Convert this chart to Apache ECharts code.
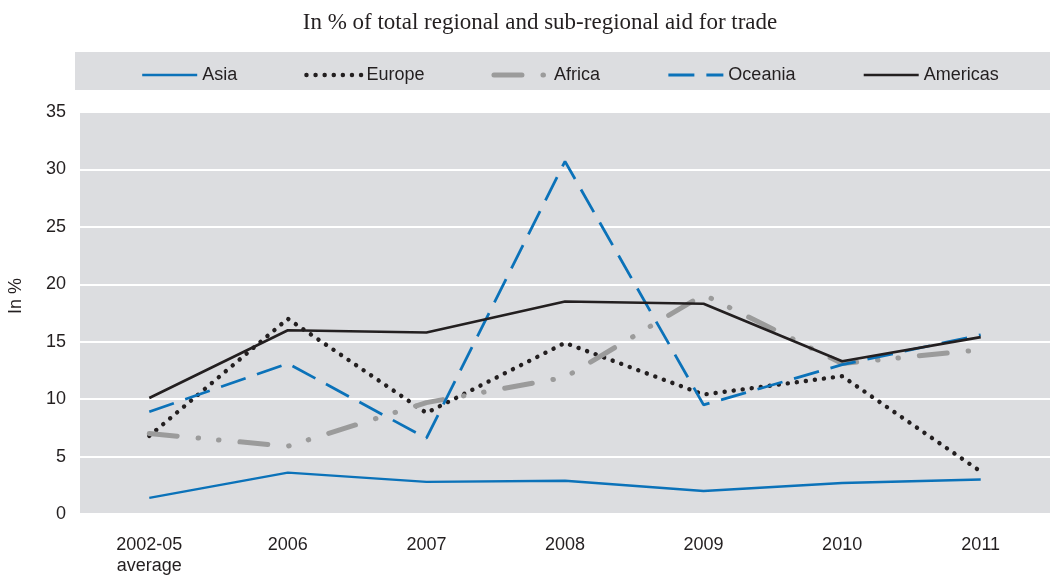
<!DOCTYPE html>
<html>
<head>
<meta charset="utf-8">
<script src="https://cdn.jsdelivr.net/npm/echarts@6/dist/echarts.min.js"></script>
<style>
  html, body { margin: 0; padding: 0; background: #ffffff; }
  #chart { width: 1050px; height: 577px; }
</style>
</head>
<body>
<div id="chart"></div>
<script>
// Share of regional and sub-regional aid for trade, by region (%)
const categories = ['2002-05\naverage', '2006', '2007', '2008', '2009', '2010', '2011'];
const asia     = [1.4, 3.6, 2.8, 2.9, 2.0, 2.7, 3.0];
const europe   = [6.8, 17.0, 8.8, 14.9, 10.4, 12.0, 3.7];
const africa   = [7.0, 5.9, 9.7, 11.9, 19.1, 13.1, 14.3];
const oceania  = [8.9, 13.1, 6.6, 30.7, 9.5, 13.0, 15.6];
const americas = [10.1, 16.0, 15.8, 18.5, 18.3, 13.3, 15.4];

const BLUE = '#0b72b9';
const INK = '#231f20';
const GREY = '#9b9b9b';
const PANEL = '#dcdde0';
const SANS = '"Liberation Sans", Arial, sans-serif';

const chart = echarts.init(document.getElementById('chart'), null, { renderer: 'canvas' });

function lineSeries(name, data, color, lineStyle) {
  return {
    name: name,
    type: 'line',
    data: data,
    color: color,
    symbol: 'none',
    smooth: false,
    lineStyle: Object.assign({ color: color }, lineStyle),
    emphasis: { disabled: true }
  };
}

chart.setOption({
  animation: false,
  backgroundColor: '#ffffff',
  title: {
    text: 'In % of total regional and sub-regional aid for trade',
    left: 535,
    textAlign: 'center',
    top: 6,
    textStyle: {
      fontFamily: '"Liberation Serif", "Times New Roman", serif',
      fontWeight: 'normal',
      fontSize: 23,
      color: INK
    }
  },
  graphic: [
    {
      type: 'rect',
      z: -1,
      shape: { x: 75, y: 52, width: 975, height: 38 },
      style: { fill: PANEL }
    },
    {
      type: 'text',
      x: 16,
      y: 296,
      rotation: Math.PI / 2,
      style: {
        text: 'In %',
        fontFamily: SANS,
        fontSize: 18,
        fill: INK,
        align: 'center',
        verticalAlign: 'middle'
      }
    }
  ],
  legend: {
    left: 136,
    top: 61,
    itemWidth: 55,
    itemHeight: 14,
    itemGap: 67,
    itemStyle: { opacity: 0 },
    lineStyle: { width: 'inherit' },
    textStyle: { fontFamily: SANS, fontSize: 18, color: INK },
    data: ['Asia', 'Europe', 'Africa', 'Oceania', 'Americas']
  },
  grid: {
    left: 80,
    top: 112,
    width: 977,
    height: 410,
    show: true,
    backgroundColor: PANEL,
    borderWidth: 0,
    containLabel: false
  },
  xAxis: {
    type: 'category',
    data: categories,
    boundaryGap: true,
    axisLine: { show: false },
    axisTick: { show: false },
    axisLabel: {
      margin: 21,
      fontFamily: SANS,
      fontSize: 18,
      color: INK,
      lineHeight: 21,
      verticalAlign: 'top'
    }
  },
  yAxis: {
    type: 'value',
    min: 0,
    max: 35,
    interval: 5,
    axisLine: { show: false },
    axisTick: { show: false },
    axisLabel: { margin: 14, fontFamily: SANS, fontSize: 18, color: INK },
    splitLine: { show: true, lineStyle: { color: '#ffffff', width: 2 } }
  },
  series: [
    lineSeries('Asia', asia, BLUE, { width: 2.4, type: 'solid' }),
    lineSeries('Europe', europe, INK, { width: 4.4, type: [0.1, 9], cap: 'round' }),
    lineSeries('Africa', africa, GREY, { width: 5, type: [28, 21, 0.5, 20, 0.5, 21], cap: 'round' }),
    lineSeries('Oceania', oceania, BLUE, { width: 2.8, type: [26, 12], cap: 'butt' }),
    lineSeries('Americas', americas, INK, { width: 2.6, type: 'solid' })
  ]
});
</script>
</body>
</html>
